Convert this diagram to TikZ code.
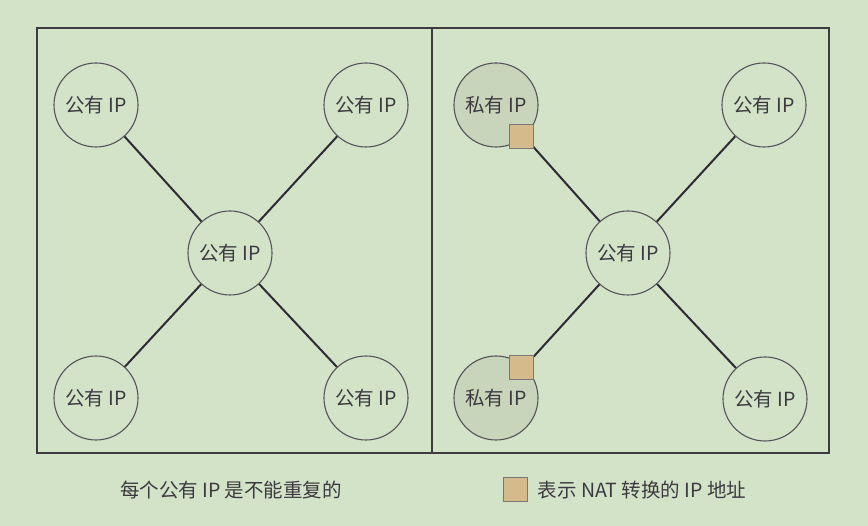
\documentclass[tikz,border=0pt]{standalone}
\usepackage{fontspec}
\setmainfont{Noto Sans CJK SC}
\usetikzlibrary{positioning}
\definecolor{bgcol}{HTML}{D3E3C8}
\definecolor{privfill}{HTML}{C8D5BA}
\definecolor{natfill}{HTML}{D5BB8C}
\definecolor{natgray}{HTML}{7A7876}
\definecolor{circgray}{HTML}{56535A}
\definecolor{linkcol}{HTML}{2E2A36}
\definecolor{boxcol}{HTML}{3D3A42}
\definecolor{txtgray}{HTML}{3C3A40}
\tikzset{ip/.style={circle,draw=circgray,line width=1.1pt,minimum size=84pt,
		inner sep=0pt,text=txtgray,font=\fontsize{19.5}{21}\selectfont},
	priv/.style={ip,fill=privfill},
	nat/.style={draw=natgray,fill=natfill,line width=1pt,minimum size=24pt,inner sep=0pt},
	link/.style={line width=2pt,draw=linkcol},
	frame/.style={line width=1.3pt,draw=boxcol},
	caption/.style={text=txtgray,font=\fontsize{19.5}{21}\selectfont,inner sep=0pt}}

\begin{document}
\begin{tikzpicture}
	[x=1pt,y=-1pt]
	\fill[bgcol] (0,0) rectangle (868,526);
	\draw[frame] (37,28) rectangle (432,453);
	\draw[frame] (432,28) rectangle (829,453);
	% left: all public
	\node [ip] (lmid) at (230,253) {公有 IP};
	\node [ip] (ltl) at (96,105) {公有 IP};
	\node [ip] (ltr) at (366,105) {公有 IP};
	\node [ip] (lbl) at (96,398) {公有 IP};
	\node [ip] (lbr) at (366,398) {公有 IP};
	\foreach \n in {ltl,ltr,lbl,lbr}
		\draw [link] (lmid) -- (\n);
	% right: two private
	\node [ip] (rmid) at (628,253) {公有 IP};
	\node [priv] (rtl) at (496,105) {私有 IP};
	\node [ip] (rtr) at (764,105) {公有 IP};
	\node [priv] (rbl) at (496,398) {私有 IP};
	\node [ip] (rbr) at (765,399) {公有 IP};
	\foreach \n in {rtl,rtr,rbl,rbr}
		\draw [link] (rmid) -- (\n);
	\node [nat] (nattl) at (521,137) {};
	\node [nat] (natbl) at (521,368) {};
	% captions
	\node [caption] (capl) at (231,490) {每个公有 IP 是不能重复的};
	\node [nat] (legsq) at (515,490) {};
	\node [caption,right=10pt of legsq] (capr) {表示 NAT 转换的 IP 地址};
\end{tikzpicture}
\end{document}
